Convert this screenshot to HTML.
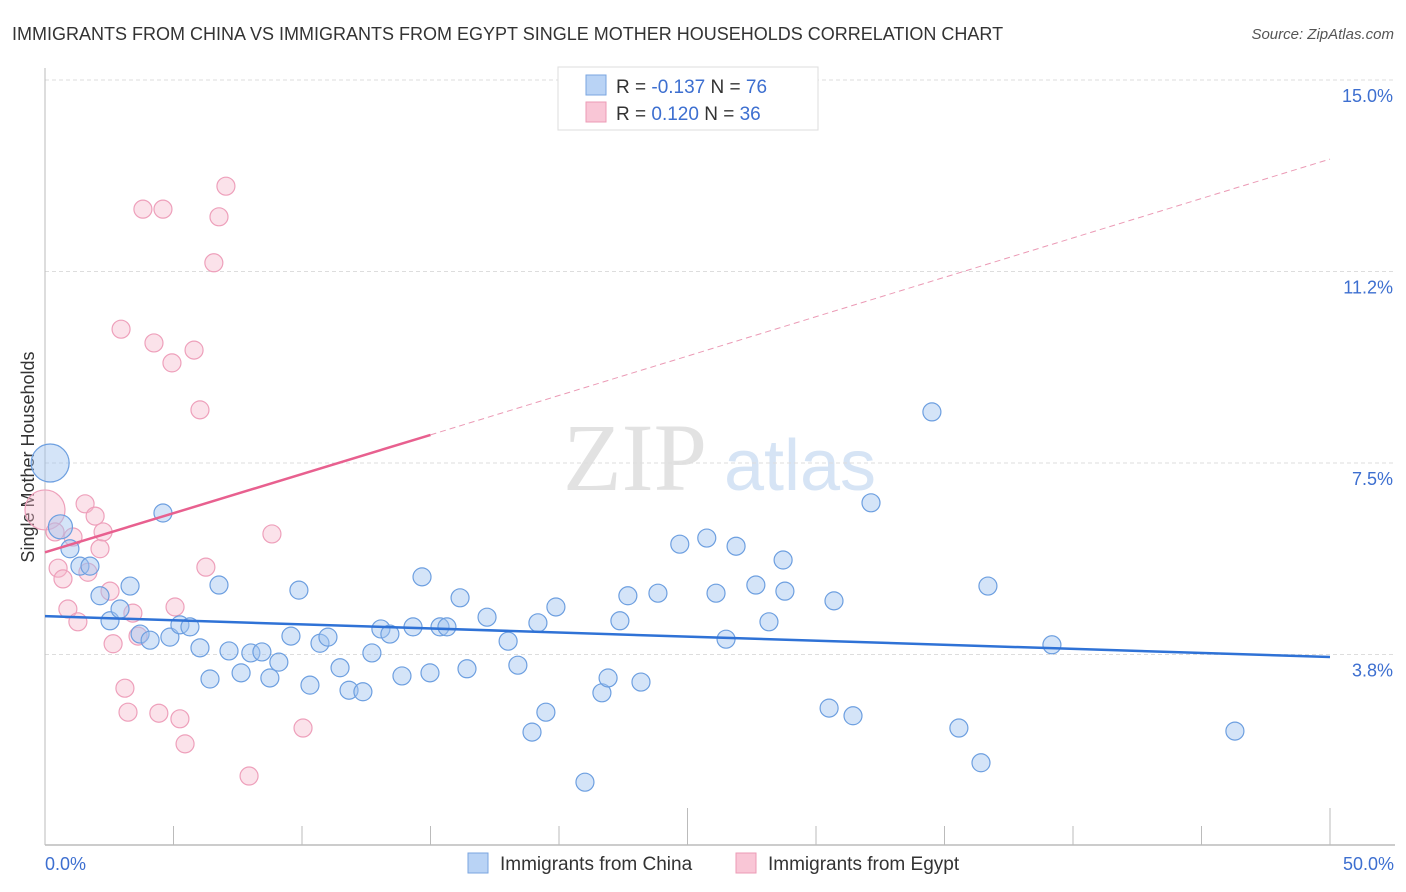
<!DOCTYPE html>
<html><head><meta charset="utf-8"><style>
body{margin:0;background:#fff;font-family:"Liberation Sans",sans-serif;}
svg{display:block}
</style></head><body>
<svg id="chart" width="1406" height="892">
<text x="12" y="40" font-size="18" fill="#333">IMMIGRANTS FROM CHINA VS IMMIGRANTS FROM EGYPT SINGLE MOTHER HOUSEHOLDS CORRELATION CHART</text>
<text x="1394" y="39" font-size="15" fill="#555" text-anchor="end" font-style="italic">Source: ZipAtlas.com</text>
<text x="34" y="457" font-size="18" fill="#333" text-anchor="middle" transform="rotate(-90 34 457)">Single Mother Households</text>
<g><text x="635" y="490" font-size="96" fill="#e2e2e2" font-family="Liberation Serif,serif" text-anchor="middle">ZIP</text><text x="800" y="490" font-size="72" fill="#d6e4f5" text-anchor="middle">atlas</text></g>
<g id="grid"></g><g id="axes"></g><g id="marks"></g>
<g>
<rect x="558" y="67" width="260" height="63" fill="#fff" stroke="#ddd"/>
<rect x="586" y="75" width="20" height="20" fill="#b9d3f5" stroke="#7aa6e0"/>
<rect x="586" y="102" width="20" height="20" fill="#f9c6d6" stroke="#ec9bb6"/>
<text x="616" y="93" font-size="19" fill="#333">R = <tspan fill="#3d6fd0">-0.137</tspan>   N = <tspan fill="#3d6fd0">76</tspan></text>
<text x="616" y="120" font-size="19" fill="#333">R =  <tspan fill="#3d6fd0">0.120</tspan>   N = <tspan fill="#3d6fd0">36</tspan></text>
</g>
<g>
<rect x="468" y="853" width="20" height="20" fill="#b9d3f5" stroke="#7aa6e0"/>
<text x="500" y="870" font-size="19" fill="#333">Immigrants from China</text>
<rect x="736" y="853" width="20" height="20" fill="#f9c6d6" stroke="#ec9bb6"/>
<text x="768" y="870" font-size="19" fill="#333">Immigrants from Egypt</text>
</g>
</svg>
<script>
const yTicks=[3.75,7.5,11.25,15];
const yTickLabels=["3.8%","7.5%","11.2%","15.0%"];
const xTicks=[0,5,10,15,20,25,30,35,40,45,50];
const chinaX=[0.2,0.6,0.97,1.36,1.75,2.14,2.53,2.92,3.31,3.7,4.09,4.59,4.86,5.25,5.64,6.03,6.42,6.77,7.16,7.63,8.01,8.44,8.75,9.1,9.57,9.88,10.31,10.7,11.01,11.48,11.83,12.37,12.72,13.07,13.42,13.89,14.32,14.67,14.98,15.37,15.64,16.15,16.42,17.2,18.02,18.4,18.95,19.18,19.49,19.88,21.01,21.67,21.91,22.37,22.68,23.19,23.85,24.7,25.75,26.11,26.5,26.89,27.66,28.17,28.72,28.79,30.51,30.7,31.44,32.14,34.51,35.56,36.42,36.69,39.18,46.3];
const chinaY=[7.5,6.25,5.82,5.48,5.48,4.9,4.41,4.64,5.09,4.15,4.03,6.52,4.09,4.33,4.29,3.88,3.27,5.11,3.82,3.39,3.78,3.8,3.29,3.6,4.11,5.01,3.15,3.97,4.09,3.49,3.05,3.02,3.78,4.25,4.15,3.33,4.29,5.27,3.39,4.29,4.29,4.86,3.47,4.48,4.01,3.54,2.23,4.37,2.62,4.68,1.25,3.0,3.29,4.41,4.9,3.21,4.95,5.91,6.03,4.95,4.05,5.87,5.11,4.39,5.6,4.99,2.7,4.8,2.55,6.72,8.5,2.31,1.63,5.09,3.94,2.25];
const chinaSize=[19,12];
const egyptX=[0,0.39,0.51,0.7,0.89,1.09,1.28,1.56,1.67,1.95,2.14,2.26,2.53,2.65,2.96,3.11,3.23,3.42,3.62,3.81,4.24,4.43,4.59,4.94,5.06,5.25,5.45,5.8,6.03,6.26,6.57,6.77,7.04,7.94,8.83,10.04];
const egyptY=[6.58,6.15,5.44,5.23,4.64,6.05,4.39,6.7,5.36,6.46,5.82,6.15,4.99,3.96,10.12,3.09,2.62,4.56,4.11,12.47,9.85,2.6,12.47,9.46,4.68,2.49,2.0,9.71,8.54,5.46,11.42,12.32,12.92,1.37,6.11,2.31];
const chinaTrend=[4.5,3.7];
const egyptTrend=[5.75,8.05,13.45];
const X=v=>45+v*25.7, Y=v=>846-v*51.07;
const NS="http://www.w3.org/2000/svg";
function mk(t,a,p){const e=document.createElementNS(NS,t);for(const k in a)e.setAttribute(k,a[k]);p.appendChild(e);return e;}
const grid=document.getElementById('grid'),axes=document.getElementById('axes'),marks=document.getElementById('marks');
yTicks.forEach((v,i)=>{const l=mk('line',{x1:45,x2:1395,y1:Y(v),y2:Y(v),stroke:'#ddd','stroke-dasharray':'4,3'},grid);


const t=mk('text',{x:1393,y:Y(v)+22,'font-size':18,fill:'#3d6fd0','text-anchor':'end'},axes);t.textContent=yTickLabels[i];

});
const ax=mk('line',{x1:45,x2:1395,y1:845,y2:845,stroke:'#bbb','stroke-width':1.5},axes);


const ay=mk('line',{x1:45,x2:45,y1:68,y2:845,stroke:'#bbb'},axes);


xTicks.forEach(v=>{const tk=mk('line',{x1:X(v),x2:X(v),y1:(v%25==0&&v>0)?808:826,y2:845,stroke:'#bbb'},axes);

});
[[0,"0.0%","start",45],[50,"50.0%","end",1394]].forEach(d=>{const t=mk('text',{x:d[3],y:870,'font-size':18,fill:'#3d6fd0','text-anchor':d[2]},axes);t.textContent=d[1];

});
egyptX.forEach((v,i)=>{const c=mk('circle',{cx:X(v),cy:Y(egyptY[i]),r:i==0?20:9,fill:'rgba(246,182,203,0.4)',stroke:'#eea0bb','stroke-width':1.2},marks);

});
chinaX.forEach((v,i)=>{const c=mk('circle',{cx:X(v),cy:Y(chinaY[i]),r:chinaSize[i]||9,fill:'rgba(160,196,240,0.45)',stroke:'#6d9fe0','stroke-width':1.2},marks);

});
const bl=mk('line',{x1:X(0),x2:X(50),y1:Y(chinaTrend[0]),y2:Y(chinaTrend[1]),stroke:'#2f72d6','stroke-width':2.5},marks);


const pl=mk('line',{x1:X(0),x2:X(15),y1:Y(egyptTrend[0]),y2:Y(egyptTrend[1]),stroke:'#e8608f','stroke-width':2.5},marks);


const pd=mk('line',{x1:X(15),x2:X(50),y1:Y(egyptTrend[1]),y2:Y(egyptTrend[2]),stroke:'#eb9ab5','stroke-width':1,'stroke-dasharray':'6,4'},marks);


</script>
</body></html>
